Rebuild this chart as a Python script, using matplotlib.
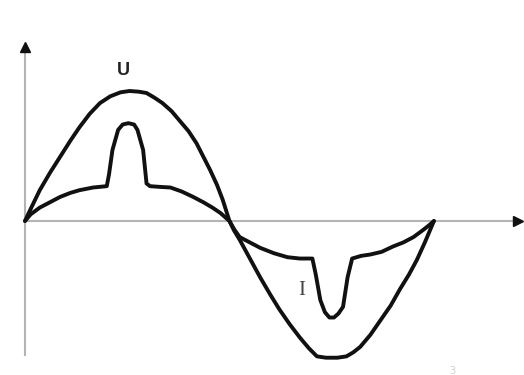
#!/usr/bin/env python3
"""Voltage U and distorted current I sketch (one mains period)."""

import matplotlib

matplotlib.use("Agg")
import matplotlib.pyplot as plt

# phase angle in degrees, values relative to the U amplitude
U_PHASE = [0, 5, 13, 22, 31, 40, 48, 57, 66, 75, 84, 92, 100, 107, 114, 121, 129, 136, 144, 151,
           157, 163, 169, 174, 180,
           184, 189, 198, 207, 216, 224, 233, 242, 250, 257, 265, 275, 283, 289, 295, 304, 313,
           322, 330, 338, 345, 352, 356, 360]
U_VALUE = [0, 0.09, 0.23, 0.36, 0.48, 0.60, 0.70, 0.80, 0.88, 0.93, 0.96, 0.97, 0.965, 0.955, 0.92,
           0.88, 0.82, 0.75, 0.67, 0.58, 0.48, 0.38, 0.27, 0.16, 0,
           -0.07, -0.14, -0.28, -0.42, -0.55, -0.66, -0.77, -0.87, -0.95, -1.01, -1.02, -1.02,
           -1.01, -0.98, -0.94, -0.85, -0.74, -0.63, -0.51, -0.40, -0.29, -0.16, -0.08, 0]

I_PHASE = [0, 5, 13, 22, 31, 40, 48, 60, 72, 74, 77, 82, 86, 91, 96, 99, 104, 107, 110, 118, 128,
           138, 148, 157, 165, 172, 180,
           184, 189, 198, 207, 219, 231, 242, 253, 256, 260, 264, 268, 272, 276, 280, 284, 288,
           296, 304, 314, 324, 333, 342, 350, 356, 360]
I_VALUE = [0, 0.05, 0.10, 0.14, 0.18, 0.21, 0.23, 0.25, 0.26, 0.35, 0.53, 0.68, 0.72, 0.73, 0.72,
           0.68, 0.53, 0.28, 0.26, 0.255, 0.25, 0.22, 0.18, 0.14, 0.10, 0.06, 0,
           -0.06, -0.12, -0.16, -0.20, -0.24, -0.27, -0.28, -0.28, -0.40, -0.59, -0.68, -0.72,
           -0.72, -0.69, -0.64, -0.42, -0.28, -0.26, -0.25, -0.23, -0.19, -0.16, -0.12, -0.07,
           -0.03, 0]

LABEL_U = (87, 1.12)
LABEL_I = (244, -0.52)
MARK = (376, -1.12)

AXIS_GRAY = "#b4b4b4"
INK = "#111111"


def main():
    fig = plt.figure(figsize=(5.24, 3.75), dpi=100)
    ax = fig.add_axes([0, 0, 1, 1])
    ax.set_xlim(-22, 439.3)
    ax.set_ylim(-1.149, 1.649)
    ax.axis("off")

    # axes
    ax.plot([0, 0], [-1.0, 1.28], color=AXIS_GRAY, lw=1.5, zorder=1)
    ax.plot([0, 432], [0, 0], color=AXIS_GRAY, lw=1.5, zorder=1)
    ax.plot([0], [1.30], marker="^", ms=7, color=INK, zorder=3)
    ax.plot([434], [0], marker=">", ms=7, color=INK, zorder=3)

    ax.plot(U_PHASE, U_VALUE, color=INK, lw=2.8, solid_joinstyle="round",
            solid_capstyle="round", zorder=2)
    ax.plot(I_PHASE, I_VALUE, color=INK, lw=2.8, solid_joinstyle="round",
            solid_capstyle="round", zorder=2)

    ax.text(*LABEL_U, "U", ha="center", va="center", fontsize=13, weight="bold",
            family="Liberation Sans", color="#222222")
    ax.text(*LABEL_I, "I", ha="center", va="center", fontsize=15,
            family="Liberation Serif", color="#444444")
    ax.text(*MARK, "3", ha="center", va="center", fontsize=7, color="#cfcfcf")

    fig.savefig("out.png", dpi=100, facecolor="white")


if __name__ == "__main__":
    main()
